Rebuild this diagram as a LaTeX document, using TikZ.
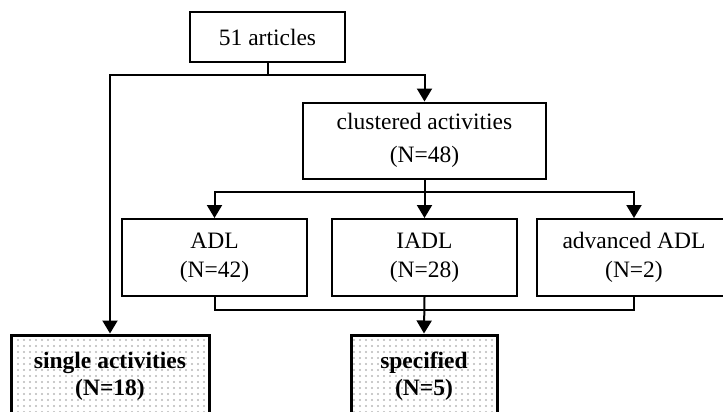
\documentclass[tikz,border=0pt]{standalone}
\usepackage{fontspec}
\setmainfont{Liberation Serif}
\usetikzlibrary{arrows.meta,patterns.meta}

\tikzset{
  box/.style={draw,line width=2pt,align=center,inner sep=0pt,
    font=\fontsize{23.5}{29}\selectfont,minimum height=77pt},
  resbox/.style={box,line width=3pt,font=\bfseries\fontsize{23.5}{27}\selectfont,
    pattern={Dots[distance=6pt,radius=1.1pt]},pattern color=black!28,minimum height=83pt},
  conn/.style={line width=2pt},
  arr/.style={conn,-{Triangle[width=15pt,length=13pt]}}
}

\begin{document}
\begin{tikzpicture}[x=1pt,y=-1pt]
\useasboundingbox (0,0) rectangle (723,412);
\begin{scope}
\clip (0,0) rectangle (723,412);
% boxes
\node[box,minimum width=155pt,minimum height=50pt] (art) at (267.5,37) {51 articles};
\node[box,minimum width=243pt,minimum height=76pt,font=\fontsize{23.5}{33}\selectfont] (clus) at (424.5,140.5) {clustered activities\\(N=48)};
\node[box,minimum width=185pt] (adl) at (214.5,257.5) {ADL\\(N=42)};
\node[box,minimum width=185pt] (iadl) at (424.5,257.5) {IADL\\(N=28)};
\node[box,minimum width=194pt] (aadl) at (634,257.5) {advanced ADL\\(N=2)};
\node[resbox,minimum width=198pt] (single) at (110,376.5) {single activities\\(N=18)};
\node[resbox,minimum width=146pt] (spec) at (424,376.5) {specified\\(N=5)};

% connectors
\coordinate (split1) at (art.south |- 0,75);
\draw[conn] (art.south) -- (split1);
\draw[arr] (split1) -| (single.north);
\draw[arr] (split1) -| (clus.north);

\coordinate (split2) at (clus.south |- 0,192);
\draw[arr] (clus.south) -- (iadl.north);
\draw[arr] (split2) -| (adl.north);
\draw[arr] (split2) -| (aadl.north);

\coordinate (join) at (iadl.south |- 0,310);
\draw[conn] (adl.south) |- (join) -| (aadl.south);
\draw[arr] (iadl.south) -- (spec.north);
\end{scope}
\end{tikzpicture}
\end{document}
